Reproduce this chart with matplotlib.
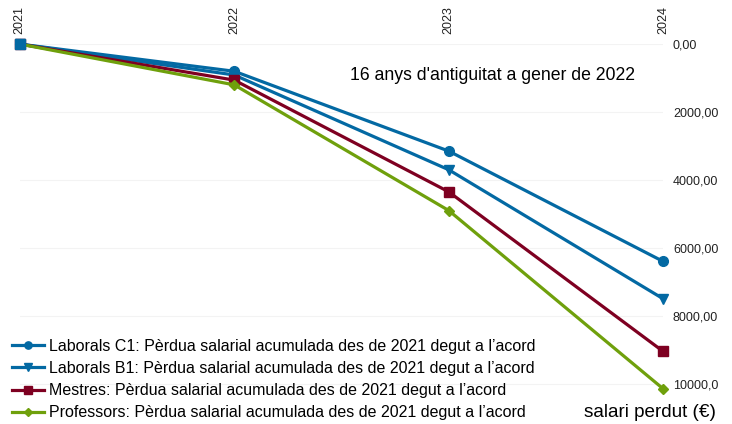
import matplotlib.pyplot as plt
import numpy as np

plt.rcParams['font.family'] = ['Liberation Sans', 'DejaVu Sans']

# dades llegides del gràfic
anys = ['2021', '2022', '2023', '2024']
laborals_c1 = [0, 800, 3150, 6400]
laborals_b1 = [0, 910, 3700, 7500]
mestres = [0, 1060, 4350, 9050]
professors = [0, 1200, 4900, 10150]

etiquetes = ['Laborals C1: Pèrdua salarial acumulada des de 2021 degut a l’acord',
             'Laborals B1: Pèrdua salarial acumulada des de 2021 degut a l’acord',
             'Mestres: Pèrdua salarial acumulada des de 2021 degut a l’acord',
             'Professors: Pèrdua salarial acumulada des de 2021 degut a l’acord']
colors = ['#0369a3', '#0369a3', '#7e0021', '#6fa00c']
marcadors = ['o', 'v', 's', 'D']
mides = [7, 7, 7, 5]

fig = plt.figure(figsize=(7.32, 4.24), dpi=100)
ax = fig.add_axes([0.027, 0.071, 0.879, 0.825])

x = np.arange(len(anys))
series = [laborals_c1, laborals_b1, mestres, professors]
for s, lab, c, m, ms in zip(series, etiquetes, colors, marcadors, mides):
    ax.plot(x, s, color=c, lw=2.3, marker=m, markersize=ms, label=lab, zorder=3, clip_on=False)
# el primer punt es veu com un quadrat blau
ax.plot(x[0], laborals_c1[0], marker='s', color=colors[0], markersize=7.5, zorder=5, clip_on=False)

ax.set_xlim(x[0], x[-1])
ax.set_ylim(10300, 0)
ax.xaxis.tick_top()
ax.set_xticks(x)
ax.set_xticklabels(anys, rotation=90, fontsize=9, color='#222222')
ax.yaxis.tick_right()
yt = [0, 2000, 4000, 6000, 8000, 10000]
ax.set_yticks(yt)
ax.set_yticklabels(['0,00', '2000,00', '4000,00', '6000,00', '8000,00', '10000,0'],
                   fontsize=9, color='#222222')
ax.tick_params(length=0, pad=7)
ax.grid(axis='y', color='#f3f3f3', lw=0.8, zorder=0)
for sp in ax.spines.values():
    sp.set_visible(False)

ax.text(0.513, 0.91, "16 anys d'antiguitat a gener de 2022", transform=ax.transAxes,
        ha='left', va='center', fontsize=12.7)
fig.text(0.978, 0.028, 'salari perdut (€)', ha='right', va='center', fontsize=13.6)

ax.legend(loc='lower left', bbox_to_anchor=(0.003, -0.014), bbox_transform=fig.transFigure,
          frameon=False, fontsize=11.5, handlelength=2.0, handletextpad=0.3,
          labelspacing=0.45, borderaxespad=0.2, markerscale=0.75)

fig.savefig('out.png', dpi=100)
